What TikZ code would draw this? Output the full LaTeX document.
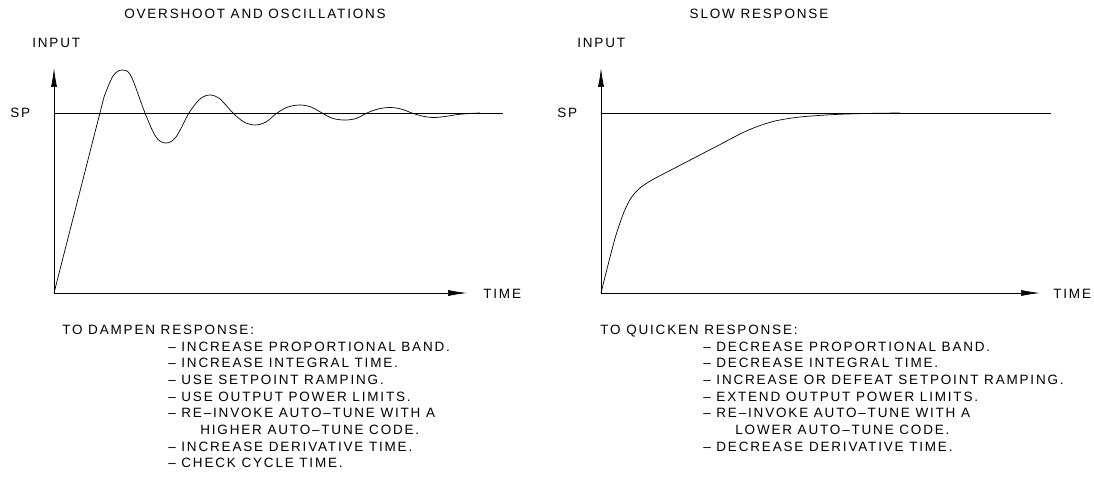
\documentclass[tikz,border=0pt]{standalone}
\usepackage{fontspec}
\setmainfont{Liberation Sans}[LetterSpace=13.5]
\usetikzlibrary{positioning,arrows.meta}

\begin{document}
\begin{tikzpicture}[x=1pt, y=-1pt, line width=0.7pt,
    every node/.style={inner xsep=0pt, inner ysep=3pt, text height=10pt, text depth=0pt, anchor=west, font=\fontsize{13.5}{16}\selectfont},
    axis/.style={-{Latex[length=19pt,width=6pt]}},
    item/.style={below=0pt of #1.south west, anchor=north west}]
    \useasboundingbox (0,0) rectangle (1094,489);

    % Overshoot
    \coordinate (o1) at (54,293);
    \coordinate (y1) at (54,68);
    \coordinate (x1) at (467,293);
    \coordinate (s1) at (54,113);
    \coordinate (e1) at (503,113);
    \draw[axis] (o1) -- (y1);
    \draw[axis] (o1) -- (x1);
    \draw (s1) -- (e1);
    \node (t1) [anchor=center] at (255,14) {OVERSHOOT AND OSCILLATIONS};
    \node (in1) at (32,43) {INPUT};
    \node (sp1) at (10,113) {SP};
    \node (tm1) [right=16pt of x1] {TIME};
    \draw (o1) -- plot[smooth, tension=0.55] coordinates {(104,97) (113,76) (122,70) (131,76) (145,113)
        (156,137) (166,143) (176,137) (189,113) (200,99) (210,95) (220,99) (233,113)
        (244,122) (255,125) (266,122) (277,113) (288,107) (300,105) (311,107) (322,113)
        (333,118.5) (345,120) (356,118.5) (367,113) (378,109) (390,107.5) (401,109) (412,113)
        (422,116) (433,117.5) (445,116.5) (458,114.5) (470,113.5) (480,113)};

    % Slow response
    \coordinate (o2) at (601,293);
    \coordinate (y2) at (601,68);
    \coordinate (x2) at (1040,293);
    \coordinate (s2) at (601,113);
    \coordinate (e2) at (1051,113);
    \draw[axis] (o2) -- (y2);
    \draw[axis] (o2) -- (x2);
    \draw (s2) -- (e2);
    \node (t2) [anchor=center] at (759,14) {SLOW RESPONSE};
    \node (in2) at (577,43) {INPUT};
    \node (sp2) at (557,113) {SP};
    \node (tm2) [right=13pt of x2] {TIME};
    \draw plot[smooth, tension=0.5] coordinates {(601,293) (608,265) (616,235) (624,212) (631,198)
        (640,188) (652,180) (670,170.5) (697,156.5) (722,143.5) (740,134) (756,127) (775,121)
        (800,117) (835,114.5) (870,113.4) (900,113)};

    % dampen
    \node (h1) at (62,329) {TO DAMPEN RESPONSE:};
    \node (a1) at (168,346) {– INCREASE PROPORTIONAL BAND.};
    \node (a2) [item=a1] {– INCREASE INTEGRAL TIME.};
    \node (a3) [item=a2] {– USE SETPOINT RAMPING.};
    \node (a4) [item=a3] {– USE OUTPUT POWER LIMITS.};
    \node (a5) [item=a4] {– RE–INVOKE AUTO–TUNE WITH A};
    \node (a6) [item=a5] {\hspace{32pt}HIGHER AUTO–TUNE CODE.};
    \node (a7) [item=a6] {– INCREASE DERIVATIVE TIME.};
    \node (a8) [item=a7] {– CHECK CYCLE TIME.};

    % quicken
    \node (h2) at (600,329) {TO QUICKEN RESPONSE:};
    \node (b1) at (703,346) {– DECREASE PROPORTIONAL BAND.};
    \node (b2) [item=b1] {– DECREASE INTEGRAL TIME.};
    \node (b3) [item=b2] {– INCREASE OR DEFEAT SETPOINT RAMPING.};
    \node (b4) [item=b3] {– EXTEND OUTPUT POWER LIMITS.};
    \node (b5) [item=b4] {– RE–INVOKE AUTO–TUNE WITH A};
    \node (b6) [item=b5] {\hspace{32pt}LOWER AUTO–TUNE CODE.};
    \node (b7) [item=b6] {– DECREASE DERIVATIVE TIME.};
\end{tikzpicture}
\end{document}
